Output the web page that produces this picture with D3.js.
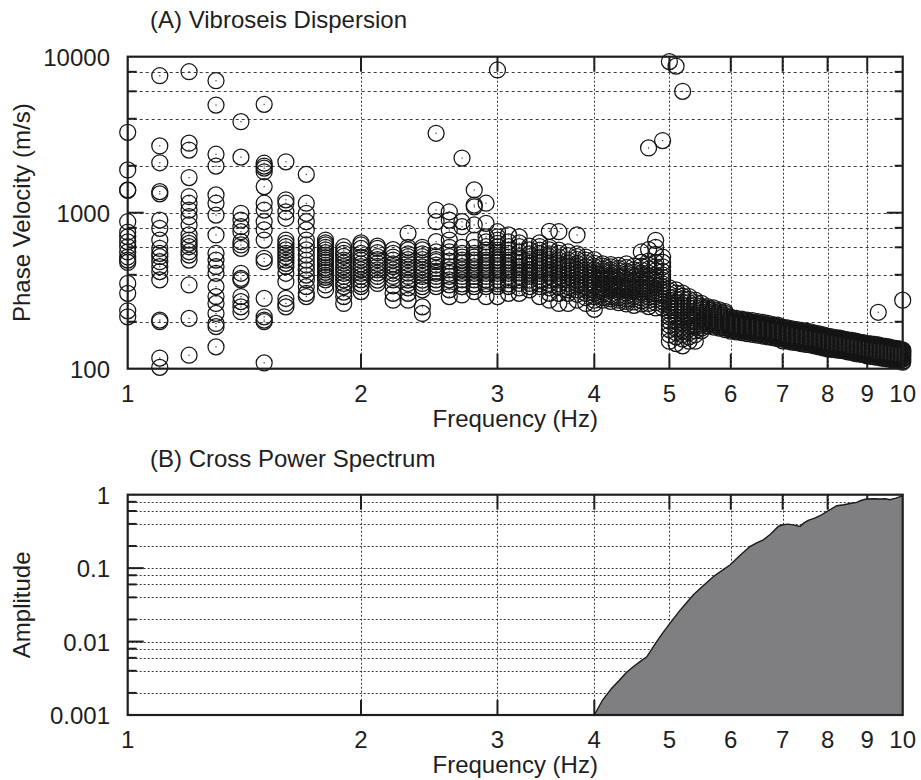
<!DOCTYPE html>
<html><head><meta charset="utf-8">
<script src="https://cdn.jsdelivr.net/npm/d3@7"></script>
<style>
body{margin:0;background:#fff}
svg{display:block}
text{font-family:"Liberation Sans",Arial,Helvetica,sans-serif;fill:#1e1e1e}
</style>
</head><body>
<svg id="c" width="921" height="780"></svg>
<script>
// ---------- DATA ----------
const freqs = [1.0,1.1,1.2,1.3,1.4,1.5,1.6,1.7,1.8,1.9,
  2.0,2.1,2.2,2.3,2.4,2.5,2.6,2.7,2.8,2.9,
  3.0,3.1,3.2,3.3,3.4,3.5,3.6,3.7,3.8,3.9,
  4.0,4.1,4.2,4.3,4.4,4.5,4.6,4.7,4.8,4.9,
  5.0,5.1,5.2,5.3,5.4,5.5,5.6,5.7,5.8,5.9,
  6.0,6.1,6.2,6.3,6.4,6.5,6.6,6.7,6.8,6.9,
  7.0,7.1,7.2,7.3,7.4,7.5,7.6,7.7,7.8,7.9,
  8.0,8.1,8.2,8.3,8.4,8.5,8.6,8.7,8.8,8.9,
  9.0,9.1,9.2,9.3,9.4,9.5,9.6,9.7,9.8,9.9,10.0];

const velocities = [
  [3275,1880,1400,1390,875,750,700,650,605,560,520,497,480,352,304,235,215],
  [7550,2680,2090,1365,1320,897,794,668,591,549,522,485,451,419,371,205,200,117,102],
  [8010,2790,2520,1680,1270,1150,1040,942,834,720,668,636,605,562,535,497,344,210,122],
  [7015,4900,2370,1990,1300,1150,966,720,549,497,451,409,336,290,262,226,195,186,138],
  [3830,2270,991,897,813,755,652,621,591,409,380,371,290,269,249,232],
  [4950,2075,1990,1930,1830,1470,1150,1040,875,775,668,510,485,282,215,205,200,109],
  [2120,1210,1150,1014,921,668,636,605,577,549,522,497,474,451,409,361,282,262,249],
  [1760,1150,991,875,775,668,621,577,535,497,462,430,398,371,336,304,290],
  [668,640,621,600,577,555,535,515,497,480,462,445,430,415,398,385,371,344,320],
  [605,575,549,525,497,475,451,430,409,390,371,352,336,310,290,262],
  [640,621,590,549,520,497,470,451,430,409,390,371,350,336,312],
  [610,591,555,522,500,474,452,430,410,390,370,352],
  [580,549,520,497,470,451,430,409,390,371,340,304,275],
  [738,600,577,545,522,500,474,450,430,410,390,370,352,330,304,275],
  [600,577,545,522,500,474,450,430,410,390,370,352,336,320,249,226],
  [3230,1040,875,652,560,522,500,485,462,440,420,409,390,371,352,336],
  [1014,897,775,668,600,560,522,490,451,430,409,390,371,345,320,290],
  [2240,875,813,600,549,520,497,475,451,430,409,390,371,350,336,297],
  [1400,1120,1090,834,668,600,549,520,497,475,451,430,409,390,371,350,336,312],
  [1150,855,700,650,605,575,549,520,497,475,451,430,409,390,371,350,336,290],
  [8220,755,700,668,635,605,575,549,520,497,475,451,430,409,390,371,350,336,290],
  [720,650,605,575,549,520,497,475,451,430,409,390,371,350,336,304],
  [700,640,605,560,522,500,474,452,430,410,390,370,352,330,304],
  [610,577,545,522,500,474,452,430,410,390,370,352,336,320],
  [640,605,575,549,520,497,475,451,430,409,390,371,350,336,290],
  [760,600,577,545,522,500,474,452,430,410,390,370,352,330,304,275],
  [755,575,549,520,497,475,451,430,409,390,371,350,336,304,262],
  [560,530,497,475,451,430,409,390,371,350,336,320,304,262],
  [720,545,522,500,474,452,430,410,390,370,352,336,320,300,275],
  [520,497,475,451,430,409,390,371,350,336,320,304,285,262],
  [500,474,452,430,410,390,370,352,336,320,305,290,275,262,240],
  [470,455,435,420,405,395,380,370,355,345,330,320,310,300,285,275],
  [465,450,430,415,400,390,375,360,350,340,325,315,300,290,280,270],
  [460,440,425,410,395,385,370,355,345,335,320,310,295,285,275,265],
  [470,445,420,405,390,375,362,350,340,330,318,305,292,280,270,260],
  [455,430,415,400,385,370,358,345,335,325,312,300,290,280,268,255],
  [560,480,455,430,410,395,380,365,350,335,322,310,298,285,272,260],
  [2600,580,490,460,435,410,395,380,365,350,338,325,312,300,288,275,262,250],
  [665,600,540,480,450,425,400,385,370,355,345,330,315,302,290,278,265,245],
  [2900,520,480,450,420,400,385,370,350,335,320,308,295,282,270,258,245],
  [9300,330,315,300,287,275,265,255,245,235,225,215,202,190,178,165,150],
  [8700,320,305,290,278,265,255,245,235,225,215,205,192,180,170,160,145],
  [6000,305,292,280,267,255,245,235,225,215,205,195,185,175,165,155,140],
  [290,278,265,255,245,235,225,218,210,200,190,180,170,160,150],
  [275,265,255,245,235,227,220,212,200,192,185,175,165,150],
  [262,252,245,238,230,222,215,207,200,195,190,182,175],
  [250,244,238,231,225,218,212,206,200,194,188],
  [245,239,232,226,220,214,208,202,196,190,185],
  [238,232,226,220,215,210,204,198,192,187,182],
  [232,226,220,215,210,204,198,193,188,183,178],
  [214,209,205,201,198,194,190,186,182,178,174],
  [210,206,202,198,195,191,188,184,180,176,172],
  [208,204,200,196,193,189,185,181,178,174,170],
  [205,201,198,194,190,186,183,179,176,172,168],
  [203,199,196,192,188,184,181,177,174,170,166],
  [200,196,193,189,186,182,179,175,172,168,164],
  [198,194,191,187,184,180,177,173,170,166,162],
  [195,191,188,184,181,178,175,171,168,164,160],
  [192,189,186,182,179,176,172,169,166,162,158],
  [190,187,184,180,177,173,170,167,163,160,156],
  [185,182,178,175,171,168,165,161,158,155,151],
  [183,180,176,173,170,166,163,160,157,153,150],
  [180,177,174,171,168,164,161,158,155,151,148],
  [178,175,172,169,166,163,160,156,153,150,147],
  [176,173,170,167,164,161,158,154,151,148,145],
  [174,171,168,165,162,159,156,153,150,147,143],
  [172,169,166,163,160,157,154,151,148,145,142],
  [169,166,164,161,158,155,152,149,146,143,140],
  [167,164,162,159,156,153,150,147,144,141,138],
  [165,162,160,157,154,151,148,145,142,139,136],
  [162,159,157,154,151,148,146,143,140,137,134],
  [160,157,155,152,150,147,144,141,139,136,133],
  [158,155,153,150,148,145,143,140,137,135,132],
  [157,154,152,149,147,144,141,139,136,133,131],
  [155,152,150,147,145,142,140,137,135,132,130],
  [153,150,148,146,143,141,138,136,133,131,128],
  [152,149,147,145,142,140,137,135,132,130,127],
  [150,147,145,143,140,138,135,133,130,128,125],
  [148,146,143,141,138,136,134,131,129,126,124],
  [147,145,142,140,137,135,133,130,128,125,123],
  [145,143,140,138,136,133,131,129,126,124,121],
  [144,142,139,137,135,132,130,127,125,123,120],
  [143,141,138,136,134,131,129,126,124,122,119],
  [230,142,140,137,135,132,130,128,125,123,121,118],
  [140,138,136,133,131,129,127,124,122,119,117],
  [139,137,135,132,130,128,126,123,121,118,116],
  [138,136,134,131,129,127,125,122,120,117,115],
  [136,134,132,130,128,126,124,121,119,116,114],
  [135,133,131,129,127,125,123,120,118,115,113],
  [134,132,130,128,126,124,122,119,117,114,112],
  [275,132,130,128,126,124,122,120,117,115,112,110]
];

const specFreq = [4.0,4.1,4.21,4.3,4.4,4.49,4.6,4.675,4.8,4.9,5.01,5.15,5.25,5.37,5.5,5.7,5.85,5.99,6.15,6.35,6.5,6.61,6.75,6.91,7.0,7.12,7.25,7.37,7.45,7.55,7.7,7.82,8.02,8.22,8.4,8.55,8.72,8.85,8.98,9.2,9.35,9.5,9.63,9.8,10.0];
const specAmp  = [0.001,0.0016,0.0023,0.0029,0.0038,0.00455,0.0055,0.0062,0.0095,0.013,0.0178,0.026,0.033,0.0433,0.055,0.0769,0.093,0.111,0.145,0.197,0.225,0.243,0.29,0.37,0.39,0.398,0.385,0.37,0.41,0.446,0.48,0.517,0.605,0.708,0.73,0.76,0.785,0.84,0.873,0.88,0.873,0.88,0.855,0.9,0.97];

const xTicks = [1,2,3,4,5,6,7,8,9,10];
const xGrid = [2,3,4,5,6,7,8,9];
const vTicks = [100,1000,10000];
const vMinor = [200,400,600,800,2000,4000,6000,8000];
const vGrid = [200,400,600,800,1000,2000,4000,6000,8000];
const aTicks = [0.001,0.01,0.1,1];
const aTickLabels = ["0.001","0.01","0.1","1"];
const aMinor = [0.002,0.004,0.006,0.008,0.02,0.04,0.06,0.08,0.2,0.4,0.6,0.8];
const aGrid = [0.002,0.004,0.006,0.008,0.01,0.02,0.04,0.06,0.08,0.1,0.2,0.4,0.6,0.8];

// ---------- LAYOUT ----------
const svg = d3.select('#c');
const X0 = 127.7, X1 = 902.7;
const A = {top:56.7, bottom:368.7};
const B = {top:494.7, bottom:715};
const x = d3.scaleLog().domain([1,10]).range([X0,X1]);
const yV = d3.scaleLog().domain([100,10000]).range([A.bottom,A.top]);
const yA = d3.scaleLog().domain([0.001,1]).range([B.bottom,B.top]);
const FS = 24, INK = '#1e1e1e';
const px = v => Math.round(v) + 0.5;

function drawGrid(g, y, vals, top, bottom, hDash, vDash){
  g.append('g').selectAll('line').data(vals).join('line')
    .attr('x1',X0).attr('x2',X1).attr('y1',d=>px(y(d))).attr('y2',d=>px(y(d)))
    .attr('stroke','#3a3a3a').attr('stroke-width',1).attr('stroke-dasharray',hDash);
  g.append('g').selectAll('line').data(xGrid).join('line')
    .attr('x1',d=>px(x(d))).attr('x2',d=>px(x(d))).attr('y1',top).attr('y2',bottom)
    .attr('stroke','#3a3a3a').attr('stroke-width',1).attr('stroke-dasharray',vDash);
}
function drawTicks(g, y, major, minor, top, bottom){
  const tk = g.append('g').attr('stroke',INK).attr('stroke-width',2);
  xGrid.forEach(d=>{
    tk.append('line').attr('x1',x(d)).attr('x2',x(d)).attr('y1',top).attr('y2',top+15);
    tk.append('line').attr('x1',x(d)).attr('x2',x(d)).attr('y1',bottom).attr('y2',bottom-15);
  });
  major.forEach(d=>{
    tk.append('line').attr('x1',X0).attr('x2',X0+16).attr('y1',y(d)).attr('y2',y(d));
    tk.append('line').attr('x1',X1).attr('x2',X1-16).attr('y1',y(d)).attr('y2',y(d));
  });
  minor.forEach(d=>{
    tk.append('line').attr('x1',X0).attr('x2',X0+9).attr('y1',y(d)).attr('y2',y(d));
    tk.append('line').attr('x1',X1).attr('x2',X1-8).attr('y1',y(d)).attr('y2',y(d));
  });
}
function drawFrame(g, top, bottom){
  g.append('rect').attr('x',X0).attr('y',top).attr('width',X1-X0).attr('height',bottom-top)
    .attr('fill','none').attr('stroke',INK).attr('stroke-width',2.2);
}
function drawXLabels(g, bottom){
  g.append('g').selectAll('text').data(xTicks).join('text')
    .attr('x',d=>x(d)).attr('y',bottom+33).attr('text-anchor','middle')
    .attr('font-size',FS).text(d=>d);
  g.append('text').attr('x',(X0+X1)/2).attr('y',bottom+58).attr('text-anchor','middle')
    .attr('font-size',FS).text('Frequency (Hz)');
}

// ---------- PANEL A ----------
const gA = svg.append('g');
drawGrid(gA, yV, vGrid, A.top, A.bottom, '3,3', '2,2');
drawTicks(gA, yV, [1000], vMinor, A.top, A.bottom);
const pts = [];
freqs.forEach((f,i)=>velocities[i].forEach(v=>pts.push([f,v])));
const gp = gA.append('g');
gp.selectAll('circle').data(pts).join('circle')
  .attr('cx',d=>x(d[0])).attr('cy',d=>yV(d[1])).attr('r',8)
  .attr('fill','none').attr('stroke','#151515').attr('stroke-width',1.25);
gp.append('g').selectAll('rect').data(pts).join('rect')
  .attr('x',d=>x(d[0])-0.6).attr('y',d=>yV(d[1])-0.6).attr('width',1.2).attr('height',1.2)
  .attr('fill','#333');
drawFrame(gA, A.top, A.bottom);
gA.append('g').selectAll('text').data(vTicks).join('text')
  .attr('x',110).attr('y',d=>yV(d)+9).attr('text-anchor','end').attr('font-size',FS).text(d=>d);
drawXLabels(gA, A.bottom);
gA.append('text').attr('transform',`translate(30,${(A.top+A.bottom)/2}) rotate(-90)`)
  .attr('text-anchor','middle').attr('font-size',FS).text('Phase Velocity (m/s)');
gA.append('text').attr('x',150).attr('y',28).attr('font-size',FS).text('(A) Vibroseis Dispersion');

// ---------- PANEL B ----------
const gB = svg.append('g');
drawGrid(gB, yA, aGrid, B.top, B.bottom, '2,2', '2,2');
drawTicks(gB, yA, [0.01,0.1], aMinor, B.top, B.bottom);
const spec = specFreq.map((f,i)=>[f,specAmp[i]]);
const area = d3.area().x(d=>x(d[0])).y0(yA(0.001)).y1(d=>yA(d[1]));
const line = d3.line().x(d=>x(d[0])).y(d=>yA(d[1]));
gB.append('path').attr('d',area(spec)).attr('fill','#7f7f81');
gB.append('path').attr('d',line(spec)).attr('fill','none').attr('stroke','#1a1a1a').attr('stroke-width',1.4);
drawFrame(gB, B.top, B.bottom);
gB.append('g').selectAll('text').data(aTicks).join('text')
  .attr('x',110).attr('y',d=>yA(d)+9).attr('text-anchor','end').attr('font-size',FS)
  .text((d,i)=>aTickLabels[i]);
drawXLabels(gB, B.bottom);
gB.append('text').attr('transform',`translate(30,${(B.top+B.bottom)/2}) rotate(-90)`)
  .attr('text-anchor','middle').attr('font-size',FS).text('Amplitude');
gB.append('text').attr('x',150).attr('y',467).attr('font-size',FS).text('(B) Cross Power Spectrum');
</script>
</body></html>
